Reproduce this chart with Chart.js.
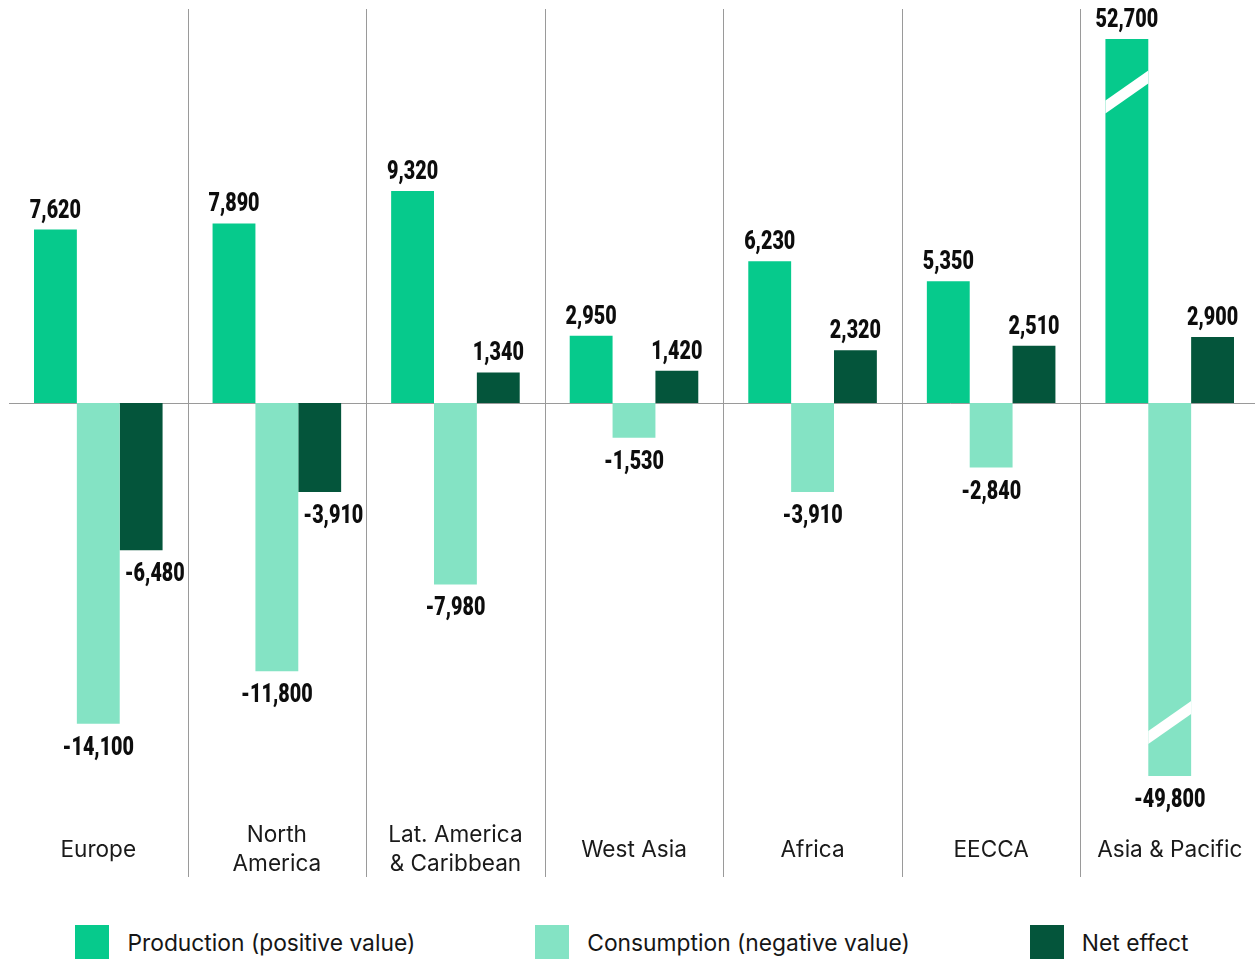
<!DOCTYPE html>
<html>
<head>
<meta charset="utf-8">
<script src="https://cdn.jsdelivr.net/npm/chart.js@4.4.1/dist/chart.umd.min.js"></script>
<style>
  body { margin: 0; background: #fff; overflow: hidden; }
  #wrap { position: relative; width: 1264px; height: 959px; }
  #chartBox { position: absolute; left: 0; top: 0; width: 1264px; height: 900px; }
  #legend {
    position: absolute; left: 0; top: 925px; width: 1264px;
    display: flex; justify-content: center; gap: 120px;
    font-family: Inter, "Noto Sans", sans-serif; font-size: 22.8px; color: #161616;
  }
  .item { display: flex; align-items: center; }
  .box { width: 34px; height: 34px; margin-right: 18px; }
</style>
</head>
<body>
<div id="wrap">
  <div id="chartBox"><canvas id="grafica"></canvas></div>
  <div id="legend"></div>
</div>
<script>
const regiones = [
  "Europe",
  ["North", "America"],
  ["Lat. America", "& Caribbean"],
  "West Asia",
  "Africa",
  "EECCA",
  "Asia & Pacific",
];
const produccion = [7620, 7890, 9320, 2950, 6230, 5350, 52700];
const consumo = [-14100, -11800, -7980, -1530, -3910, -2840, -49800];
const efectoNeto = [-6480, -3910, 1340, 1420, 2320, 2510, 2900];
const series = ["Production (positive value)", "Consumption (negative value)", "Net effect"];
const colores = ["#06ca8c", "#84e3c4", "#04553b"];
// eje cortado: Asia & Pacific sale del rango
const yMin = -16400;
const yMax = 16000;

// fuente condensada: no hay una narrow instalada, se comprime en x
const fuenteValor = '900 26px Roboto, "DejaVu Sans", sans-serif';
const escalaX = 0.76;

// lineas separadoras + linea cero
const separadores = {
  id: "separadores",
  beforeDatasetsDraw(chart) {
    const ctx = chart.ctx;
    const x = chart.scales.x;
    const y = chart.scales.y;
    ctx.save();
    ctx.strokeStyle = "#9a9a9a";
    ctx.lineWidth = 1;
    for (let i = 1; i < regiones.length; i++) {
      const px = Math.round((x.getPixelForValue(i - 1) + x.getPixelForValue(i)) / 2) + 0.5;
      ctx.beginPath();
      ctx.moveTo(px, 9);
      ctx.lineTo(px, 877);
      ctx.stroke();
    }
    const y0 = Math.round(y.getPixelForValue(0)) + 0.5;
    ctx.beginPath();
    ctx.moveTo(chart.chartArea.left, y0);
    ctx.lineTo(chart.width, y0);
    ctx.stroke();
    ctx.restore();
  },
};

// etiquetas de valores y marcas de corte
const etiquetas = {
  id: "etiquetas",
  afterDatasetsDraw(chart) {
    const ctx = chart.ctx;
    const area = chart.chartArea;
    ctx.save();
    chart.data.datasets.forEach((ds, di) => {
      const meta = chart.getDatasetMeta(di);
      meta.data.forEach((bar, i) => {
        const v = ds.data[i];
        const left = bar.x - bar.width / 2;
        const right = bar.x + bar.width / 2;

        // corte diagonal blanco si la barra sale del area
        let corte = null;
        if (bar.y < area.top) corte = area.top + 53;
        if (bar.y > area.bottom) corte = area.bottom - 53.5;
        if (corte !== null) {
          ctx.fillStyle = "#fff";
          ctx.beginPath();
          ctx.moveTo(left, corte + 15 - 6.5);
          ctx.lineTo(right, corte - 15 - 6.5);
          ctx.lineTo(right, corte - 15 + 6.5);
          ctx.lineTo(left, corte + 15 + 6.5);
          ctx.closePath();
          ctx.fill();
        }

        const texto = v.toLocaleString("en-US");
        ctx.font = fuenteValor;
        ctx.fillStyle = "#0d0d0d";
        ctx.textBaseline = "alphabetic";
        const w = ctx.measureText(texto).width * escalaX;
        let tx = bar.x - w / 2;
        let ty;
        if (v >= 0) {
          ty = Math.max(bar.y, area.top) - 12;
        } else {
          ty = Math.min(bar.y, area.bottom) + 31;
          // si la barra anterior es mas larga, se corre la etiqueta
          if (di > 0) {
            const prev = chart.getDatasetMeta(di - 1).data[i];
            if (prev.y > ty - 20 && tx < prev.x + prev.width / 2) {
              tx = left + 5;
            }
          }
        }
        ctx.save();
        ctx.translate(tx, ty);
        ctx.scale(escalaX, 1);
        ctx.textAlign = "left";
        ctx.fillText(texto, 0, 0);
        ctx.restore();
      });
    });
    ctx.restore();
  },
};

const ctx = document.getElementById("grafica").getContext("2d");
const myChart = new Chart(ctx, {
  type: "bar",
  data: {
    labels: regiones,
    datasets: [
      { label: series[0], data: produccion, backgroundColor: colores[0] },
      { label: series[1], data: consumo, backgroundColor: colores[1] },
      { label: series[2], data: efectoNeto, backgroundColor: colores[2] },
    ],
  },
  options: {
    responsive: true,
    maintainAspectRatio: false,
    animation: false,
    layout: { padding: { top: 39, left: 9, right: 5, bottom: 0 } },
    datasets: {
      bar: { categoryPercentage: 0.72, barPercentage: 1.0 },
    },
    plugins: {
      legend: { display: false },
      tooltip: { enabled: false },
    },
    scales: {
      x: {
        grid: { display: false, drawTicks: true, tickLength: 59.5 },
        border: { display: false },
        ticks: {
          padding: 0,
          crossAlign: "center",
          maxRotation: 0,
          autoSkip: false,
          color: "#1a1a1a",
          font: { family: "Inter, 'Noto Sans', sans-serif", size: 22.6, lineHeight: 1.29 },
        },
        afterFit(scale) {
          scale.height = 124;
        },
      },
      y: {
        display: false,
        min: yMin,
        max: yMax,
      },
    },
  },
  plugins: [separadores, etiquetas],
});

// leyenda en html
let leyenda = "";
myChart.data.datasets.forEach((d) => {
  leyenda += `<div class="item"><div class="box" style="background:${d.backgroundColor}"></div><span>${d.label}</span></div>`;
});
document.getElementById("legend").innerHTML = leyenda;
</script>
</body>
</html>
